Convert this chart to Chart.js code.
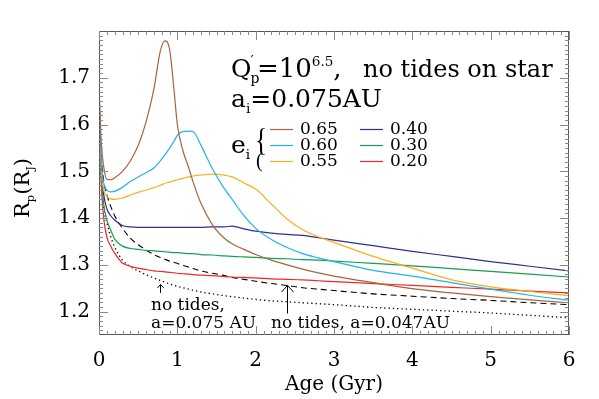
<!DOCTYPE html>
<html>
<head>
<meta charset="utf-8">
<script src="https://cdn.jsdelivr.net/npm/chart.js@4"></script>
<style>
  body { margin: 0; background: #fff; }
  canvas { display: block; }
</style>
</head>
<body>
<canvas id="chart" width="599" height="399"></canvas>
<script>
// Planet radius vs age
const ages = [0.005, 0.03, 0.06, 0.1, 0.15, 0.2, 0.3, 0.4, 0.5, 0.6, 0.7, 0.78, 0.84, 0.9,
  0.96, 1.0, 1.07, 1.15, 1.2, 1.3, 1.45, 1.6, 1.7, 1.85, 2.0, 2.2, 2.4, 2.6, 2.8, 3.0,
  3.5, 4.0, 4.5, 5.0, 5.5, 6.0];

const e065 = [1.66, 1.56, 1.51, 1.483, 1.482, 1.486, 1.500, 1.522, 1.555, 1.605, 1.675, 1.755, 1.779, 1.762,
  1.67, 1.60, 1.545, 1.505, 1.478, 1.432, 1.385, 1.357, 1.345, 1.333, 1.322, 1.31, 1.30, 1.291, 1.283, 1.276,
  1.262, 1.249, 1.240, 1.232, 1.225, 1.219];
const e060 = [1.64, 1.52, 1.475, 1.46, 1.456, 1.457, 1.466, 1.478, 1.488, 1.497, 1.507, 1.522, 1.535, 1.549,
  1.565, 1.577, 1.585, 1.586, 1.585, 1.556, 1.505, 1.463, 1.44, 1.405, 1.378, 1.354, 1.337, 1.324, 1.315, 1.307,
  1.288, 1.276, 1.262, 1.248, 1.235, 1.224];
const e055 = [1.62, 1.50, 1.46, 1.447, 1.441, 1.44, 1.443, 1.449, 1.455, 1.46, 1.465, 1.47, 1.474, 1.477,
  1.48, 1.482, 1.485, 1.488, 1.49, 1.492, 1.494, 1.492, 1.488, 1.475, 1.462, 1.43, 1.398, 1.375, 1.36, 1.348,
  1.318, 1.293, 1.268, 1.253, 1.243, 1.234];
const e040 = [1.60, 1.50, 1.45, 1.42, 1.405, 1.396, 1.384, 1.381, 1.38, 1.38, 1.38, 1.38, 1.38, 1.38,
  1.38, 1.38, 1.38, 1.38, 1.38, 1.38, 1.381, 1.381, 1.383, 1.377, 1.372, 1.368, 1.365, 1.363, 1.358, 1.353,
  1.341, 1.329, 1.318, 1.307, 1.297, 1.287];
const e030 = [1.59, 1.49, 1.43, 1.396, 1.374, 1.355, 1.34, 1.335, 1.333, 1.331, 1.33, 1.329, 1.328, 1.327,
  1.326, 1.326, 1.325, 1.324, 1.324, 1.322, 1.321, 1.319, 1.318, 1.317, 1.316, 1.314, 1.313, 1.311, 1.31, 1.308,
  1.303, 1.298, 1.292, 1.286, 1.28, 1.274];
const e020 = [1.58, 1.47, 1.40, 1.36, 1.34, 1.325, 1.304, 1.297, 1.293, 1.29, 1.287, 1.286, 1.285, 1.284,
  1.283, 1.282, 1.281, 1.28, 1.279, 1.278, 1.277, 1.275, 1.274, 1.273, 1.272, 1.27, 1.269, 1.268, 1.266, 1.264,
  1.26, 1.256, 1.252, 1.248, 1.244, 1.24];
const noTides047 = [1.62, 1.53, 1.48, 1.45, 1.425, 1.405, 1.378, 1.357, 1.343, 1.332, 1.322, 1.316, 1.312, 1.308,
  1.305, 1.303, 1.299, 1.295, 1.292, 1.287, 1.282, 1.277, 1.273, 1.269, 1.265, 1.26, 1.256, 1.251, 1.248, 1.245,
  1.238, 1.233, 1.228, 1.224, 1.219, 1.215];
const noTides075 = [1.58, 1.47, 1.42, 1.39, 1.36, 1.338, 1.31, 1.296, 1.287, 1.279, 1.272, 1.267, 1.263, 1.259,
  1.256, 1.254, 1.251, 1.248, 1.246, 1.242, 1.238, 1.234, 1.232, 1.229, 1.226, 1.223, 1.221, 1.219, 1.217, 1.215,
  1.209, 1.205, 1.201, 1.197, 1.192, 1.187];

const eccLabels = ['0.65', '0.60', '0.55', '0.40', '0.30', '0.20'];
const eccColors = ['#a8643c', '#1eb4ec', '#ffae1a', '#2f2f96', '#14a050', '#f02828'];
const xTicks = [0, 1, 2, 3, 4, 5, 6];
const yTicks = [1.2, 1.3, 1.4, 1.5, 1.6, 1.7];

const SERIF = '"DejaVu Serif", serif';

function pts(ys) {
  return ys.map((y, i) => ({ x: ages[i], y }));
}

const eccSeries = [e065, e060, e055, e040, e030, e020];
const datasets = eccSeries.map((ys, i) => ({
  label: eccLabels[i],
  data: pts(ys),
  borderColor: eccColors[i],
  borderWidth: 1.2,
  pointRadius: 0,
  cubicInterpolationMode: 'monotone',
}));
datasets.push({
  label: 'no tides, a=0.047AU',
  data: pts(noTides047),
  borderColor: '#000',
  borderWidth: 1.1,
  borderDash: [6, 4],
  pointRadius: 0,
  cubicInterpolationMode: 'monotone',
});
datasets.push({
  label: 'no tides, a=0.075 AU',
  data: pts(noTides075),
  borderColor: '#000',
  borderWidth: 1.3,
  borderDash: [1.3, 3],
  pointRadius: 0,
  cubicInterpolationMode: 'monotone',
});

// draws a run of [text, kind] pieces; kind: '' normal, 'sub', 'sup'
function richText(ctx, x, y, parts, size) {
  let cx = x;
  parts.forEach(([txt, kind]) => {
    let s = size, dy = 0;
    if (kind === 'sub') { s = size * 0.55; dy = size * 0.22; }
    if (kind === 'sup') { s = size * 0.52; dy = -size * 0.42; }
    ctx.font = s + 'px ' + SERIF;
    ctx.fillText(txt, cx, y + dy);
    cx += ctx.measureText(txt).width;
  });
  return cx;
}

function arrow(ctx, x, yTip, yTail, head) {
  ctx.beginPath();
  ctx.moveTo(x, yTail);
  ctx.lineTo(x, yTip);
  ctx.moveTo(x - head, yTip + head * 1.1);
  ctx.lineTo(x, yTip);
  ctx.lineTo(x + head, yTip + head * 1.1);
  ctx.stroke();
}

const framePlugin = {
  id: 'frame',
  afterDraw(chart) {
    const { ctx, chartArea: a, scales } = chart;
    const xs = scales.x, ys = scales.y;
    ctx.save();
    // frame
    ctx.strokeStyle = '#555';
    ctx.lineWidth = 1;
    ctx.strokeRect(a.left + 0.5, a.top + 0.5, a.right - a.left - 1, a.bottom - a.top - 1);
    // inward ticks, all four sides
    ctx.strokeStyle = '#888';
    ctx.beginPath();
    for (let k = 0; k <= 60; k++) {
      const px = Math.round(xs.getPixelForValue(k / 10)) + 0.5;
      const len = k % 10 === 0 ? 9 : 4;
      ctx.moveTo(px, a.bottom); ctx.lineTo(px, a.bottom - len);
      ctx.moveTo(px, a.top); ctx.lineTo(px, a.top + len);
    }
    for (let k = 116; k <= 179; k++) {
      const py = Math.round(ys.getPixelForValue(k / 100)) + 0.5;
      const len = k % 10 === 0 ? 9 : 4;
      ctx.moveTo(a.left, py); ctx.lineTo(a.left + len, py);
      ctx.moveTo(a.right, py); ctx.lineTo(a.right - len, py);
    }
    ctx.stroke();

    ctx.fillStyle = '#000';
    ctx.textBaseline = 'alphabetic';
    ctx.textAlign = 'left';

    // y axis title with subscripts
    ctx.save();
    ctx.translate(29, 218);
    ctx.rotate(-Math.PI / 2);
    richText(ctx, 0, 0, [['R', ''], ['p', 'sub'], ['(R', ''], ['J', 'sub'], [')', '']], 21);
    ctx.restore();

    // headline
    ctx.font = '25px ' + SERIF;
    ctx.fillText('Q', 231, 77);
    const qw = ctx.measureText('Q').width;
    ctx.font = '14px ' + SERIF;
    ctx.fillText('\u2032', 231 + qw - 1, 66);
    ctx.fillText('p', 231 + qw - 1, 83);
    richText(ctx, 257, 77, [['=10', ''], ['6.5', 'sup'], [',', '']], 26);
    ctx.font = '24px ' + SERIF;
    ctx.fillText('no tides on star', 363, 77);

    richText(ctx, 231, 107, [['a', ''], ['i', 'sub'], ['=0.075AU', '']], 25);

    // legend
    richText(ctx, 231, 153, [['e', ''], ['i', 'sub']], 25);
    ctx.font = '32px "Liberation Serif", serif';
    ctx.save();
    ctx.scale(0.8, 1);
    ctx.fillText('{', 255 / 0.8, 151);
    ctx.restore();
    ctx.font = '20px "Liberation Serif", serif';
    ctx.fillText('(', 256, 167);

    const rows = [129, 145, 161];
    eccLabels.forEach((lab, i) => {
      const col = Math.floor(i / 3), row = i % 3;
      const lx = col === 0 ? 270 : 360;
      const y = rows[row];
      ctx.strokeStyle = eccColors[i];
      ctx.lineWidth = 1.2;
      ctx.beginPath();
      ctx.moveTo(lx, y + 0.5); ctx.lineTo(lx + 23, y + 0.5);
      ctx.stroke();
      ctx.font = '17px ' + SERIF;
      ctx.textBaseline = 'middle';
      ctx.fillText(lab, lx + 30, y + 1);
    });

    // annotations
    ctx.textBaseline = 'alphabetic';
    ctx.font = '17px ' + SERIF;
    ctx.fillText('no tides,', 151, 310);
    ctx.fillText('a=0.075 AU', 151, 328);
    ctx.fillText('no tides, a=0.047AU', 271, 328);

    ctx.strokeStyle = '#000';
    ctx.lineWidth = 1;
    const ax1 = Math.round(xs.getPixelForValue(0.78)) + 0.5;
    arrow(ctx, ax1, ys.getPixelForValue(1.258), ys.getPixelForValue(1.24), 3);
    const ax2 = Math.round(xs.getPixelForValue(2.4)) + 0.5;
    arrow(ctx, ax2, ys.getPixelForValue(1.256), ys.getPixelForValue(1.196), 6);
    ctx.restore();
  }
};

new Chart(document.getElementById('chart'), {
  type: 'line',
  data: { datasets },
  options: {
    responsive: false,
    animation: false,
    layout: { padding: { top: 31, right: 30, left: 0, bottom: 0 } },
    plugins: { legend: { display: false }, tooltip: { enabled: false } },
    scales: {
      x: {
        type: 'linear',
        min: 0, max: 6,
        afterBuildTicks: (s) => { s.ticks = xTicks.map((v) => ({ value: v })); },
        afterFit: (s) => { s.height = 64; },
        grid: { display: false, drawTicks: false },
        border: { display: false },
        ticks: { color: '#000', font: { family: SERIF, size: 20 }, padding: 14 },
        title: { display: true, text: 'Age (Gyr)', color: '#000', font: { family: SERIF, size: 20 }, padding: { top: 0, bottom: 2 } },
      },
      y: {
        min: 1.15, max: 1.8,
        afterBuildTicks: (s) => { s.ticks = yTicks.map((v) => ({ value: v })); },
        afterFit: (s) => { s.width = 99; },
        grid: { display: false, drawTicks: false },
        border: { display: false },
        ticks: { color: '#000', font: { family: SERIF, size: 20 }, padding: 9, callback: (v) => v.toFixed(1) },
      },
    },
  },
  plugins: [framePlugin],
});
</script>
</body>
</html>
